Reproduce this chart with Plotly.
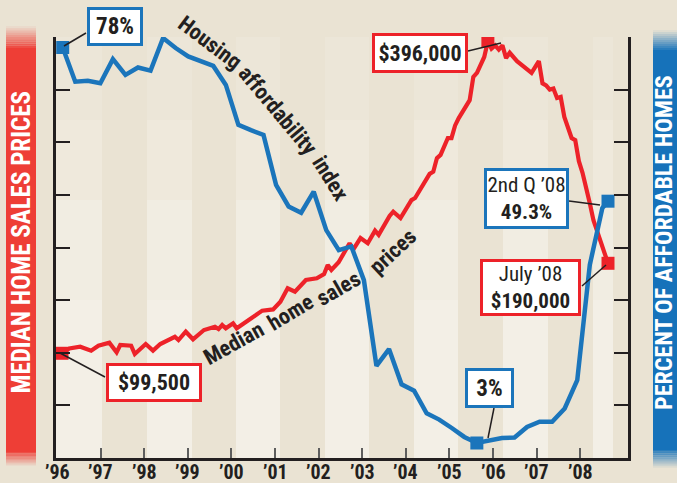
import plotly.graph_objects as go

# ---------------- data ----------------
# Median home sales price, thousands of dollars; month index 0 = Jan 1996
red_month = [0, 2, 5, 8, 10, 13, 15, 16, 19, 20,
             23, 25, 27, 31, 32, 34, 36, 39, 42, 43,
             44, 45, 47, 48, 52, 55, 58, 60, 62, 64,
             67, 70, 72, 73, 74, 76, 79, 80, 82, 84,
             86, 87, 90, 91, 93, 96, 97, 99, 101, 102,
             103, 104, 106, 107, 108, 109, 111, 112, 113, 114,
             116, 117, 118, 119, 120, 121, 122, 123, 125, 127,
             129, 131, 132, 133, 134, 135, 136, 137, 138, 140,
             141, 142, 143, 145, 146, 150]
red_price_k = [99.5, 104, 105.7, 102, 106.7, 109.5, 100.4, 107.4, 106.7, 98.8,
               108.3, 102, 108.3, 115.2, 112.1, 120, 112.8, 121.6, 124.7, 122.5,
               126.3, 123.2, 128, 123.2, 132.7, 140, 141.2, 148.5, 161.2, 158,
               169.1, 170.7, 174.8, 183.4, 178.6, 186, 204, 198, 209, 204,
               216, 212, 230, 234, 228, 245, 247, 259, 270, 272,
               285, 288, 304, 304, 316, 323, 335, 340, 362, 366,
               381, 396, 389, 392, 388, 392, 380, 385, 377, 372,
               366, 377, 356, 354, 350, 351, 342, 343, 324, 304,
               302, 282, 271, 242, 226, 185]

# Housing affordability index (percent of affordable homes), by period index
blue_period = [0, 1, 2, 3, 4, 5, 6, 7, 8, 9,
               10, 11, 12, 13, 14, 15, 16, 17, 18, 19,
               20, 21, 22, 23, 24, 25, 26, 27, 28, 29,
               30, 31, 32, 33, 34, 35, 36, 37, 38, 39,
               40, 41, 42, 43, 43.45]
blue_pct = [78, 71.5, 71.7, 71.2, 75.8, 72.8, 74.2, 73.6, 79.8, 77.9,
            76.3, 75.5, 74.5, 70.9, 63.3, 62.3, 61.4, 51.9, 47.8, 46.6,
            50.6, 43.3, 39.5, 40.2, 33.8, 17.5, 20.7, 14.0, 12.8, 8.5,
            7.3, 5.7, 4.0, 2.85, 3.4, 3.8, 3.9, 5.9, 6.9, 6.9,
            9.4, 14.8, 36.7, 47.5, 48.8]

year_ticks = list(range(1996, 2009))
year_labels = ["’96", "’97", "’98", "’99", "’00", "’01", "’02",
               "’03", "’04", "’05", "’06", "’07", "’08"]

# ---------------- styling ----------------
BG = "#EAE3D3"
LIGHT = "#F3EFE6"
RED = "#ED2229"
BLUE = "#1B75BB"
INK = "#231F20"
NARROW = "Roboto Condensed, Open Sans Condensed, Liberation Sans Narrow, Roboto, sans-serif"

W, H = 677, 483
L, R, T, B = 56, 628, 37, 458


def px(x, y):
    return (x - L) / (R - L), (B - y) / (B - T)


fig = go.Figure()

# background bands (lighter), with a soft vertical gradient
band_px = [(56, 102), (147, 192), (236, 280), (325, 369), (414, 458), (503, 548), (593, 613)]
shapes = []
for x0, x1 in band_px:
    for (ya, yb, op) in [(37, 120, 0.25), (120, 200, 0.5), (200, 300, 0.8), (300, 458, 1.0)]:
        a = px(x0, yb)
        b = px(x1, ya)
        shapes.append(dict(type="rect", xref="paper", yref="paper", x0=a[0], x1=b[0],
                           y0=a[1], y1=b[1], fillcolor=LIGHT, opacity=op,
                           line=dict(width=0), layer="below"))


def side_bar(x0p, x1p, ytop, ybot, color, fade_top, fade_bot):
    out = []
    a = px(x0p, ybot)
    b = px(x1p, ytop)
    out.append(dict(type="rect", xref="paper", yref="paper", x0=a[0], x1=b[0], y0=a[1], y1=b[1],
                    fillcolor=color, line=dict(width=0), layer="below"))
    n = 10
    for i in range(n):
        op = max(0.0, 1 - (i + 1) / n * 0.95)
        ya = ytop - fade_top * (i + 1) / n
        yb = ytop - fade_top * i / n
        a = px(x0p, yb)
        b = px(x1p, ya)
        out.append(dict(type="rect", xref="paper", yref="paper", x0=a[0], x1=b[0], y0=a[1], y1=b[1],
                        fillcolor=color, opacity=op, line=dict(width=0), layer="below"))
        ya = ybot + fade_bot * i / n
        yb = ybot + fade_bot * (i + 1) / n
        a = px(x0p, yb)
        b = px(x1p, ya)
        out.append(dict(type="rect", xref="paper", yref="paper", x0=a[0], x1=b[0], y0=a[1], y1=b[1],
                        fillcolor=color, opacity=op, line=dict(width=0), layer="below"))
    return out


shapes += side_bar(6, 36, 48, 452, "#EE3E36", 22, 14)
shapes += side_bar(653, 677, 50, 450, "#1672BA", 20, 18)

# leader lines
leaders = [((86, 33), (64, 46)),
           ((468, 51), (501, 43)),
           ((569, 201), (600, 205)),
           ((582, 286), (606, 265)),
           ((105, 377), (60, 353)),
           ((494, 408), (488, 438))]
for (p0, p1) in leaders:
    a = px(*p0)
    b = px(*p1)
    shapes.append(dict(type="line", xref="paper", yref="paper", x0=a[0], y0=a[1], x1=b[0], y1=b[1],
                       line=dict(color=INK, width=1.5)))

# ---------------- traces ----------------
fig.add_trace(go.Scatter(x=blue_period, y=blue_pct, mode="lines", xaxis="x3", yaxis="y2",
                         line=dict(color=BLUE, width=4.5), hoverinfo="skip", showlegend=False))
imin = blue_pct.index(min(blue_pct))
fig.add_trace(go.Scatter(x=[blue_period[0], blue_period[imin], blue_period[-1]],
                         y=[blue_pct[0], blue_pct[imin], blue_pct[-1]],
                         mode="markers", xaxis="x3", yaxis="y2",
                         marker=dict(symbol="square", size=13, color=BLUE),
                         hoverinfo="skip", showlegend=False))

red_price = [v * 1000 for v in red_price_k]
fig.add_trace(go.Scatter(x=red_month, y=red_price, mode="lines", xaxis="x2", yaxis="y",
                         line=dict(color=RED, width=4.2), hoverinfo="skip", showlegend=False))
imax = red_price.index(max(red_price))
fig.add_trace(go.Scatter(x=[red_month[0], red_month[imax], red_month[-1]],
                         y=[red_price[0], red_price[imax], red_price[-1]],
                         mode="markers", xaxis="x2", yaxis="y",
                         marker=dict(symbol="square", size=13, color=RED),
                         hoverinfo="skip", showlegend=False))

# ---------------- annotations ----------------
ann = []


def box(cx, cy, w, h, text, color, size=22):
    x, y = px(cx, cy)
    ann.append(dict(xref="paper", yref="paper", x=x, y=y, xanchor="center", yanchor="middle",
                    text=text, showarrow=False, bgcolor="white", bordercolor=color,
                    borderwidth=3, borderpad=0, width=w - 6, height=h - 6,
                    font=dict(family=NARROW, size=size, color=INK), align="center"))


box(114.7, 26.7, 56, 39, "<b>78%</b>", BLUE, 23)
box(419.7, 53.3, 96, 40, "<b>$396,000</b>", RED, 22)
box(526.7, 198.7, 85, 61, "2nd Q ’08<br><b>49.3%</b>", BLUE, 21)
box(530.3, 287.7, 101, 57, "July ’08<br><b>$190,000</b>", RED, 21)
box(154.2, 382.8, 96, 39, "<b>$99,500</b>", RED, 22)
box(489.5, 387.7, 49, 40, "<b>3%</b>", BLUE, 23)


def label(cx, cy, text, angle, size=22, color=INK):
    x, y = px(cx, cy)
    ann.append(dict(xref="paper", yref="paper", x=x, y=y, xanchor="center", yanchor="middle",
                    text="<b>" + text + "</b>", showarrow=False, textangle=angle, borderpad=0,
                    font=dict(family=NARROW, size=size, color=color)))


label(210, 42, "Housing", 37)
label(278, 110, "affordability", 50)
label(331, 178, "index", 58)
label(233, 343, "Median", -29)
label(290, 312, "home", -31)
label(338, 288, "sales", -30)
label(393, 252, "prices", -43)

# year labels under the bottom axis
ylab = px(0, 472)[1]
for yv, txt in zip(year_ticks, year_labels):
    ann.append(dict(xref="x", yref="paper", x=yv, y=ylab, xanchor="center", yanchor="middle",
                    text="<b>" + txt + "</b>", showarrow=False, borderpad=0,
                    font=dict(family=NARROW, size=20, color=INK)))

# axis title bars
x, y = px(21.5, 243)
ann.append(dict(xref="paper", yref="paper", x=x, y=y, xanchor="center", yanchor="middle",
                text="<b>MEDIAN HOME SALES PRICES</b>", showarrow=False, textangle=-90, borderpad=0,
                font=dict(family=NARROW, size=25, color="white")))
x, y = px(664, 243)
ann.append(dict(xref="paper", yref="paper", x=x, y=y, xanchor="center", yanchor="middle",
                text="<b>PERCENT OF AFFORDABLE HOMES</b>", showarrow=False, textangle=-90, borderpad=0,
                font=dict(family=NARROW, size=24, color="white")))

# ---------------- layout ----------------
year_px = 43.6          # pixels per year on the bottom axis
year0_px = 57           # where '96 sits
red_px_per_month = 3.64
blue_px_per_period = 12.55
fig.update_layout(
    width=W, height=H,
    margin=dict(l=L, r=W - R, t=T, b=H - B, pad=0),
    paper_bgcolor=BG, plot_bgcolor="rgba(0,0,0,0)",
    showlegend=False,
    shapes=shapes,
    annotations=ann,
    xaxis=dict(range=[1996 - (year0_px - L) / year_px, 1996 + (R - year0_px) / year_px],
               tickvals=year_ticks[1:], showticklabels=False,
               ticks="inside", ticklen=10, tickwidth=2, tickcolor="#5E5E5E",
               showline=True, linecolor=INK, linewidth=2.5, showgrid=False, zeroline=False,
               fixedrange=True),
    xaxis2=dict(overlaying="x", visible=False, fixedrange=True,
                range=[-(62 - L) / red_px_per_month, (R - 62) / red_px_per_month]),
    xaxis3=dict(overlaying="x", visible=False, fixedrange=True,
                range=[-(62.7 - L) / blue_px_per_period, (R - 62.7) / blue_px_per_period]),
    yaxis=dict(range=[0, 400000], tickvals=list(range(0, 400001, 50000)), showticklabels=False,
               ticks="inside", ticklen=14, tickwidth=2, tickcolor=INK,
               showline=True, linecolor=INK, linewidth=2.5, showgrid=False, zeroline=False,
               fixedrange=True),
    yaxis2=dict(range=[0, 80], tickvals=list(range(0, 81, 10)), showticklabels=False,
                overlaying="y", side="right",
                ticks="inside", ticklen=14, tickwidth=2, tickcolor=INK,
                showline=True, linecolor=INK, linewidth=2.5, showgrid=False, zeroline=False,
                fixedrange=True),
)

fig.write_html("out.html", config={"displayModeBar": False},
               post_script="document.body.style.margin='0';document.body.style.overflow='hidden';")
